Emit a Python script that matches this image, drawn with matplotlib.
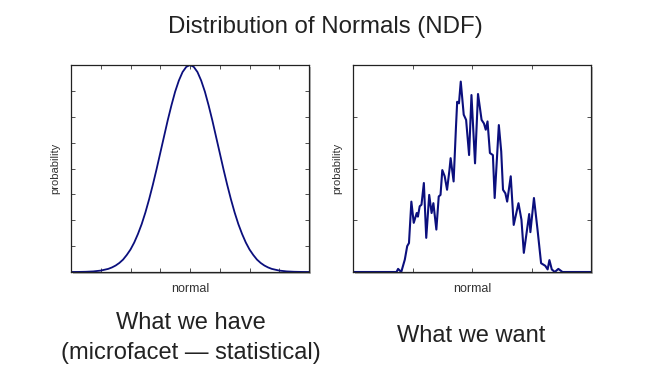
import numpy as np
import matplotlib
matplotlib.use("Agg")
import matplotlib.pyplot as plt
from matplotlib import patheffects

plt.rcParams['font.family'] = ['Liberation Sans', 'DejaVu Sans']

# left panel: smooth distribution, read every 0.125 along "normal"
smooth_x = [0.0, 0.25, 0.5, 0.75, 1.0, 1.25, 1.375, 1.5, 1.625, 1.75, 1.875,
            2.0, 2.125, 2.25, 2.375, 2.5, 2.625, 2.75, 2.875, 3.0, 3.125,
            3.25, 3.375, 3.5, 3.625, 3.75, 3.875, 4.0, 4.125, 4.25, 4.375,
            4.5, 4.625, 4.75, 4.875, 5.0, 5.125, 5.25, 5.375, 5.5, 5.625,
            5.75, 5.875, 6.0, 6.125, 6.25, 6.375, 6.5, 6.625, 6.75, 7.0,
            7.25, 7.5, 7.75, 8.0]
smooth_y = [0.001, 0.003, 0.009, 0.023, 0.055, 0.12, 0.176, 0.25, 0.35, 0.48,
            0.66, 0.87, 1.14, 1.47, 1.85, 2.30, 2.81, 3.37, 3.97, 4.60, 5.23,
            5.86, 6.44, 6.97, 7.40, 7.73, 7.93, 8.0, 7.93, 7.73, 7.40, 6.97,
            6.44, 5.86, 5.23, 4.60, 3.97, 3.37, 2.81, 2.30, 1.85, 1.47, 1.14,
            0.87, 0.66, 0.48, 0.35, 0.25, 0.176, 0.12, 0.055, 0.023, 0.009,
            0.003, 0.001]

# right panel: noisy measured distribution
noisy_x = [0.0, 0.73, 0.757, 0.81, 0.87, 0.91, 0.94, 0.98, 1.02, 1.07, 1.09,
           1.12, 1.15, 1.19, 1.23, 1.28, 1.32, 1.35, 1.40, 1.44, 1.47, 1.50,
           1.54, 1.58, 1.62, 1.64, 1.69, 1.73, 1.75, 1.78, 1.81, 1.86, 1.90,
           1.95, 1.99, 2.05, 2.10, 2.16, 2.20, 2.23, 2.26, 2.30, 2.35, 2.38,
           2.45, 2.49, 2.52, 2.56, 2.59, 2.65, 2.70, 2.78, 2.83, 2.87, 2.96,
           2.98, 3.04, 3.10, 3.16, 3.23, 3.27, 3.30, 3.34, 3.39, 3.45, 3.52,
           4.0]
noisy_y = [0.0, 0.0, 0.06, 0.0, 0.24, 0.50, 0.56, 1.36, 0.95, 1.14, 1.07,
           1.27, 1.30, 1.72, 0.66, 1.49, 1.14, 1.33, 0.82, 1.46, 1.49, 1.97,
           1.85, 1.59, 1.97, 2.20, 1.75, 2.81, 3.29, 3.26, 3.68, 3.04, 2.94,
           2.26, 3.42, 2.10, 3.44, 2.94, 2.87, 2.75, 2.91, 2.30, 2.26, 1.43,
           2.84, 2.33, 1.59, 1.52, 1.36, 1.85, 0.91, 1.33, 1.01, 0.37, 1.12,
           0.77, 1.43, 0.82, 0.17, 0.12, 0.05, 0.23, 0.05, 0.0, 0.06, 0.0,
           0.0]

line_color = '#0b0f7d'

fig = plt.figure(figsize=(6.55, 3.77), dpi=100)

ax1 = fig.add_axes([0.1084, 0.2785, 0.3634, 0.549])
ax2 = fig.add_axes([0.539, 0.2785, 0.3634, 0.549])

ax1.plot(smooth_x, smooth_y, color=line_color, lw=1.3, solid_joinstyle='round')
ax1.set_xlim(0, 8)
ax1.set_ylim(0, 8)
ax1.set_xticks(range(9))
ax1.set_yticks(range(9))

ax2.plot(noisy_x, noisy_y, color=line_color, lw=1.5, solid_joinstyle='round')
ax2.set_xlim(0, 4)
ax2.set_ylim(0, 4)
ax2.set_xticks(range(5))
ax2.set_yticks(range(5))

for ax in (ax1, ax2):
    ax.tick_params(direction='in', length=3, width=0.6, color='#333333',
                   top=True, right=True, labelbottom=False, labelleft=False)
    for s in ax.spines.values():
        s.set_color('#222222')
        s.set_linewidth(0.9)
    ax.patch.set_path_effects([
        patheffects.SimplePatchShadow(offset=(1.5, -1.5), shadow_rgbFace='#888888', alpha=0.6),
        patheffects.Normal()])
    ax.set_xlabel('normal', fontsize=9, color='#333333', labelpad=8)
    ax.set_ylabel('probability', fontsize=8, color='#333333', labelpad=8)

fig.text(0.496, 0.9125, 'Distribution of Normals (NDF)', fontsize=17.3,
         ha='center', va='baseline', color='#222222')
fig.text(0.292, 1 - 329 / 377, 'What we have', fontsize=17,
         ha='center', va='baseline', color='#222222')
fig.text(0.292, 1 - 359 / 377, '(microfacet \u2014 statistical)', fontsize=17,
         ha='center', va='baseline', color='#222222')
fig.text(0.719, 1 - 342 / 377, 'What we want', fontsize=17,
         ha='center', va='baseline', color='#222222')

fig.savefig('out.png', dpi=100)
